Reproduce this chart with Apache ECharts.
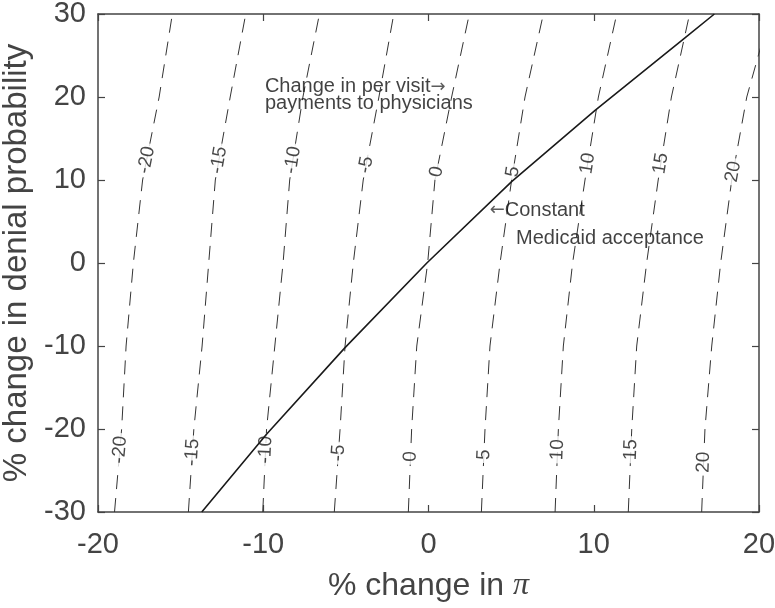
<!DOCTYPE html>
<html><head><meta charset="utf-8">
<script src="https://cdn.jsdelivr.net/npm/echarts@6/dist/echarts.min.js"></script>
<style>html,body{margin:0;padding:0;background:#fff}#c{width:775px;height:608px}</style>
</head><body><div id="c"></div><script>
// ---- data ----
const xTicks = [-20, -10, 0, 10, 20];
const yTicks = [-30, -20, -10, 0, 10, 20, 30];
const contourY = [-30, -20, -10, 0, 10, 20, 30];
const levels = [-20, -15, -10, -5, 0, 5, 10, 15, 20];
const contourM20 = [-19.0, -18.57, -18.3, -17.86, -17.3, -16.3, -15.5];
const contourM15 = [-14.53, -14.2, -13.7, -13.3, -12.9, -12.0, -11.06];
const contourM10 = [-10.03, -9.8, -9.3, -8.8, -8.4, -7.6, -6.6];
const contourM5 = [-5.7, -5.35, -5.05, -4.55, -3.95, -3.0, -2.1];
const contour0 = [-1.22, -1.02, -0.71, -0.05, 0.39, 1.4, 2.47];
const contour5 = [3.2, 3.42, 3.72, 4.33, 5.03, 5.84, 6.95];
const contour10 = [7.66, 7.86, 8.16, 8.72, 9.47, 10.28, 11.39];
const contour15 = [12.09, 12.3, 12.6, 13.2, 13.9, 14.7, 15.8];
const contour20 = [16.53, 16.73, 17.14, 17.68, 18.35, 19.26, 20.66];
const contoursX = [contourM20, contourM15, contourM10, contourM5, contour0, contour5, contour10, contour15, contour20];
// y positions of the contour labels (upper and lower row)
const labelYUpper = [12.4, 12.4, 12.4, 11.8, 11.0, 11.0, 12.0, 12.0, 11.0];
const labelYLower = [-22.5, -22.8, -22.5, -22.9, -23.3, -23.1, -22.5, -22.5, -24.0];
// constant Medicaid acceptance curve
const acceptX = [-13.72, -9.79, -5.05, -0.1, 5.03, 10.08, 15.5, 17.3];
const acceptY = [-30, -20.6, -10.2, 0, 9.8, 18.4, 27.1, 30];
// annotations (data coordinates, left-aligned, vertically centred)
const annoText = ['Change in per visit{a|\u2192}\npayments to physicians', '{a|\u2190}Constant', 'Medicaid acceptance'];
const annoX = [-9.9, 3.7, 5.3];
const annoY = [20.2, 6.3, 3.0];

// ---- chart ----
const FONT = "'Liberation Sans', Arial, Helvetica, sans-serif";
const AX = '#444';
const chart = echarts.init(document.getElementById('c'));

function interpX(xs, y) {
  for (let i = 0; i < contourY.length - 1; i++) {
    if (y >= contourY[i] && y <= contourY[i + 1]) {
      const t = (y - contourY[i]) / (contourY[i + 1] - contourY[i]);
      return xs[i] + t * (xs[i + 1] - xs[i]);
    }
  }
  return xs[xs.length - 1];
}
function segIndex(y) {
  for (let i = 0; i < contourY.length - 1; i++) if (y >= contourY[i] && y <= contourY[i + 1]) return i;
  return contourY.length - 2;
}

function labelPoints() {
  const pts = [];
  levels.forEach((lv, k) => {
    [labelYUpper[k], labelYLower[k]].forEach(y => {
      pts.push({ lv, k, x: interpX(contoursX[k], y), y });
    });
  });
  return pts;
}

function makeOption(rotFn) {
  const axisCommon = {
    type: 'value',
    axisLine: { show: true, onZero: false, lineStyle: { color: AX, width: 1.5 } },
    axisTick: { show: true, inside: true, length: 7, lineStyle: { color: AX, width: 1.2 } },
    splitLine: { show: false }
  };
  const series = [];
  contoursX.forEach((xs, k) => {
    series.push({
      type: 'line', name: 'c' + levels[k], showSymbol: false, symbol: 'none', z: 2,
      data: xs.map((x, i) => [x, contourY[i]]),
      lineStyle: { color: '#333', width: 1, type: [14, 9] },
      clip: true, silent: true, animation: false
    });
  });
  const pts = labelPoints();
  series.push({
    type: 'scatter', symbolSize: 0, z: 3, silent: true, animation: false,
    data: pts.map((p, i) => ({
      value: [p.x, p.y],
      label: { rotate: rotFn(p) }
    })),
    label: {
      show: true, position: 'inside',
      formatter: (d) => String(pts[d.dataIndex].lv),
      fontFamily: FONT, fontSize: 19, color: '#1a1a1a',
      backgroundColor: '#fff', padding: [1, 3]
    }
  });
  series.push({
    type: 'line', name: 'accept', showSymbol: false, symbol: 'none', z: 5, smooth: false,
    data: acceptX.map((x, i) => [x, acceptY[i]]),
    lineStyle: { color: '#1a1a1a', width: 1.6 }, silent: true, animation: false
  });
  series.push({
    type: 'scatter', symbolSize: 0, z: 6, silent: true, animation: false,
    data: annoX.map((x, i) => [x, annoY[i]]),
    label: {
      show: true, position: 'right', distance: 0,
      formatter: (d) => annoText[d.dataIndex],
      fontFamily: FONT, fontSize: 20, lineHeight: 17, color: '#111', align: 'left',
      rich: { a: { fontFamily: "'DejaVu Sans', sans-serif", fontSize: 18, lineHeight: 17, color: '#333' } }
    }
  });
  return {
    animation: false,
    backgroundColor: '#fff',
    grid: { left: 98, right: 16, top: 14, bottom: 96, containLabel: false, outerBoundsMode: 'none' },
    xAxis: [
      Object.assign({}, axisCommon, {
        min: -20, max: 20, interval: 10, position: 'bottom',
        axisLabel: { fontSize: 29, color: AX, margin: 18, fontFamily: FONT, formatter: v => String(v) },
        name: '% change in {pi|\u03c0}', nameLocation: 'middle', nameGap: 58,
        nameTextStyle: { fontSize: 32, color: AX, fontFamily: FONT,
          rich: { pi: { fontSize: 32, color: AX, fontFamily: "'Liberation Serif', 'Times New Roman', serif", fontStyle: 'italic' } } }
      }),
      Object.assign({}, axisCommon, { min: -20, max: 20, interval: 10, position: 'top', axisLabel: { show: false } })
    ],
    yAxis: [
      Object.assign({}, axisCommon, {
        min: -30, max: 30, interval: 10, position: 'left',
        axisLabel: { fontSize: 29, color: AX, margin: 12, fontFamily: FONT, formatter: v => String(v) },
        name: '% change in denial probability', nameLocation: 'middle', nameGap: 60,
        nameTextStyle: { fontSize: 33, color: AX, fontFamily: FONT }
      }),
      Object.assign({}, axisCommon, { min: -30, max: 30, interval: 10, position: 'right', axisLabel: { show: false } })
    ],
    series
  };
}

chart.setOption(makeOption(() => 90));
// follow the local direction of each contour for its label
const rotFn = (p) => {
  const xs = contoursX[p.k];
  const i = segIndex(p.y);
  const a = chart.convertToPixel({ gridIndex: 0 }, [xs[i], contourY[i]]);
  const b = chart.convertToPixel({ gridIndex: 0 }, [xs[i + 1], contourY[i + 1]]);
  return Math.atan2(a[1] - b[1], b[0] - a[0]) * 180 / Math.PI;
};
chart.setOption(makeOption(rotFn), true);
</script></body></html>
